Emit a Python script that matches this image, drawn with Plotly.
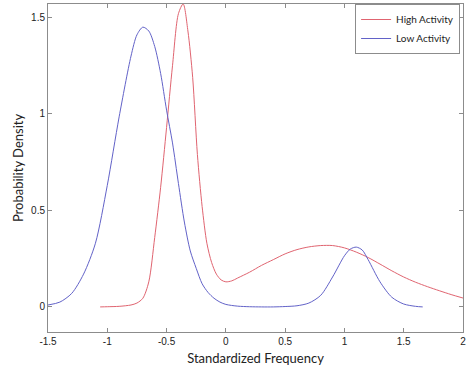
import plotly.graph_objects as go

# Low Activity (blue) density curve
low_x = [-1.5, -1.4, -1.3, -1.2, -1.1, -1.0, -0.9, -0.8, -0.75, -0.7, -0.65, -0.6,
         -0.55, -0.5, -0.45, -0.4, -0.35, -0.3, -0.25, -0.2, -0.15, -0.1, -0.05, 0.0,
         0.1, 0.2, 0.3, 0.4, 0.5, 0.6, 0.7, 0.8, 0.9, 1.0, 1.05, 1.1, 1.15, 1.2,
         1.3, 1.4, 1.5, 1.6, 1.66]
low_y = [0.01, 0.025, 0.07, 0.17, 0.33, 0.63, 0.985, 1.30, 1.41, 1.45, 1.43, 1.35,
         1.21, 1.02, 0.85, 0.64, 0.44, 0.29, 0.20, 0.12, 0.075, 0.045, 0.025, 0.013,
         0.004, 0.001, 0.0, 0.0, 0.002, 0.006, 0.02, 0.06, 0.155, 0.265, 0.30, 0.31, 0.295, 0.245,
         0.13, 0.05, 0.015, 0.003, 0.0]

# High Activity (red) density curve
high_x = [-1.06, -1.0, -0.9, -0.8, -0.75, -0.7, -0.65, -0.6, -0.55, -0.5, -0.45, -0.4,
          -0.36, -0.32, -0.28, -0.24, -0.2, -0.16, -0.12, -0.08, -0.04, 0.0, 0.05, 0.1,
          0.2, 0.3, 0.4, 0.5, 0.6, 0.7, 0.8, 0.9, 1.0, 1.1, 1.2, 1.3, 1.4, 1.5, 1.6,
          1.7, 1.8, 1.9, 2.0]
high_y = [0.0, 0.001, 0.003, 0.01, 0.02, 0.045, 0.13, 0.36, 0.62, 0.93, 1.25, 1.52,
          1.57, 1.43, 1.19, 0.79, 0.52, 0.33, 0.23, 0.17, 0.14, 0.13, 0.135, 0.15,
          0.18, 0.215, 0.245, 0.275, 0.297, 0.311, 0.318, 0.318, 0.306, 0.284, 0.256, 0.222, 0.187, 0.155, 0.128,
          0.105, 0.084, 0.064, 0.046]

x_ticks = [-1.5, -1.0, -0.5, 0.0, 0.5, 1.0, 1.5, 2.0]
x_tick_labels = ["-1.5", "-1", "-0.5", "0", "0.5", "1", "1.5", "2"]
y_ticks = [0.0, 0.5, 1.0, 1.5]
y_tick_labels = ["0", "0.5", "1", "1.5"]

fig = go.Figure()
fig.add_trace(go.Scatter(x=high_x, y=high_y, mode="lines", name="High Activity",
                         line=dict(color="#e06470", width=1, shape="spline", smoothing=0.8)))
fig.add_trace(go.Scatter(x=low_x, y=low_y, mode="lines", name="Low Activity",
                         line=dict(color="#6262c8", width=1, shape="spline", smoothing=0.8)))

axis_common = dict(showline=True, mirror="ticks", linecolor="#8c8c8c", linewidth=1,
                   ticks="inside", ticklen=4, tickcolor="#8c8c8c", showgrid=False,
                   zeroline=False, tickfont=dict(family="Liberation Sans, Arial", size=10, color="#222"),
                   automargin=False)

fig.update_layout(
    width=472, height=370,
    margin=dict(l=48, r=9, t=4, b=38),
    paper_bgcolor="white", plot_bgcolor="white",
    xaxis=dict(range=[-1.5, 2.0], tickvals=x_ticks, ticktext=x_tick_labels,
               title=dict(text="Standardized Frequency", standoff=7,
                          font=dict(family="Lato, Open Sans", size=13, color="#222")),
               **axis_common),
    yaxis=dict(range=[-0.13, 1.57], tickvals=y_ticks, ticktext=y_tick_labels,
               title=dict(text="Probability Density", standoff=4,
                          font=dict(family="Lato, Open Sans", size=13, color="#222")),
               **axis_common),
    legend=dict(x=0.993, y=1.0, xanchor="right", yanchor="top",
                bordercolor="#8c8c8c", borderwidth=1, bgcolor="white",
                font=dict(family="Lato, Open Sans", size=10, color="#222"),
                itemwidth=30, tracegroupgap=0),
    showlegend=True,
)

fig.write_html("out.html", config={"displayModeBar": False},
               post_script="document.body.style.margin='0px';")
